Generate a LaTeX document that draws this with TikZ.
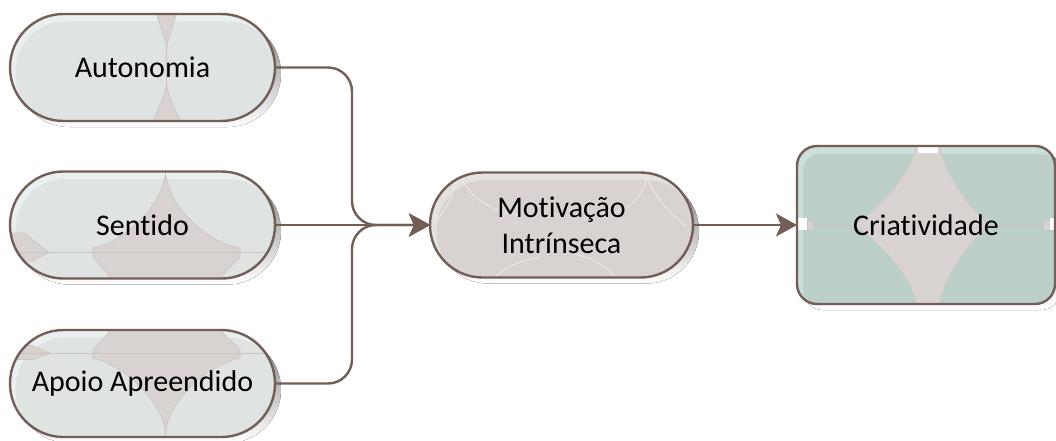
\documentclass[tikz,border=0pt]{standalone}
\usepackage{fontspec}
\setmainfont{Carlito}[Ligatures=NoCommon]
\usetikzlibrary{shapes.misc,arrows.meta,backgrounds}

\definecolor{edge}{HTML}{735E57}
\definecolor{shade}{HTML}{D5CECB}
\definecolor{leftmain}{HTML}{DFE3E1}
\definecolor{leftrim}{HTML}{EAF0EF}
\definecolor{motmain}{HTML}{D8D3D0}
\definecolor{motrim}{HTML}{E4E2E0}
\definecolor{crimain}{HTML}{BCD0C9}
\definecolor{cririm}{HTML}{CCDFDA}
\definecolor{glitchfill}{HTML}{D8D3D0}
\definecolor{glitchline}{HTML}{C9C4C1}
\definecolor{arcline}{HTML}{ECEBEA}

\tikzset{
  base/.style={draw=edge, line width=2.4pt, inner sep=0pt, outer sep=0pt,
    font=\fontsize{30}{36}\selectfont, text=black, align=center},
  pill/.style={base, rounded rectangle, minimum width=265pt, minimum height=107pt},
  boxnode/.style={base, rectangle, rounded corners=20pt, minimum width=258pt, minimum height=158pt},
  glitch/.style={fill=glitchfill, draw=glitchline, line width=0.6pt},
  thinline/.style={draw=glitchline, line width=0.6pt},
  arc/.style={draw=arcline, line width=0.8pt},
  conn/.style={draw=edge, line width=2.4pt, rounded corners=24pt,
    -{Stealth[length=21pt,width=23pt,inset=5pt]}},
}

\begin{document}
\begin{tikzpicture}[x=1pt,y=-1pt]
\useasboundingbox (0,0) rectangle (1056,441);

% nodes (outline and text)
\node[pill] (aut) at (142.5,67.5) {Autonomia};
\node[pill] (sen) at (142.5,225) {Sentido};
\node[pill] (apo) at (142.5,383.5) {Apoio Apreendido};
\node[pill, minimum width=263pt, minimum height=105pt, text depth=0pt] (mot) at (561.5,225) {Motivação\\Intrínseca};
\node[boxnode] (cri) at (926,225) {Criatividade};

% shaded fills behind the outlines
\begin{scope}[on background layer]
  % Autonomia
  \begin{scope}[shift={(aut.center)}]
    \fill[shade, rounded corners=53.4pt] (-126.5,-47.5) rectangle (138.5,59.5);
    \begin{scope}
      \clip[rounded corners=53.4pt] (-132.5,-53.5) rectangle (132.5,53.5);
      \fill[leftrim] (-140,-60) rectangle (140,60);
      \fill[leftmain, rounded corners=50pt] (-127,-46) rectangle (136,57);
      \filldraw[glitch] (12.5,-58) -- (35.5,-58) .. controls (28,-35) and (24,-25) .. (24,-16)
        .. controls (24,-25) and (20,-35) .. (12.5,-58) -- cycle;
      \filldraw[glitch] (9.5,58) -- (39.5,58) .. controls (30,35) and (24,25) .. (24,14)
        .. controls (24,25) and (18,35) .. (9.5,58) -- cycle;
      \draw[thinline] (24,-16) -- (24,14);
    \end{scope}
  \end{scope}
  % Sentido
  \begin{scope}[shift={(sen.center)}]
    \fill[shade, rounded corners=53.4pt] (-126.5,-47.5) rectangle (138.5,59.5);
    \begin{scope}
      \clip[rounded corners=53.4pt] (-132.5,-53.5) rectangle (132.5,53.5);
      \fill[leftrim] (-140,-60) rectangle (140,60);
      \fill[leftmain, rounded corners=50pt] (-127,-46) rectangle (136,57);
      \filldraw[glitch] (23,-56) .. controls (23,-20) and (65,18) .. (97.5,23) -- (97.5,32)
        -- (72.5,58) -- (-27.5,58) -- (-49.5,32) -- (-49.5,23)
        .. controls (-20,18) and (23,-20) .. (23,-56) -- cycle;
      \filldraw[glitch] (-135,8) -- (-118,8) -- (-94,27.5) -- (-110,36) -- (-135,36) -- cycle;
      \draw[thinline] (-140,27.5) -- (140,27.5);
    \end{scope}
  \end{scope}
  % Apoio Apreendido
  \begin{scope}[shift={(apo.center)}]
    \fill[shade, rounded corners=53.4pt] (-126.5,-47.5) rectangle (138.5,59.5);
    \begin{scope}
      \clip[rounded corners=53.4pt] (-132.5,-53.5) rectangle (132.5,53.5);
      \fill[leftrim] (-140,-60) rectangle (140,60);
      \fill[leftmain, rounded corners=50pt] (-127,-46) rectangle (136,57);
      \filldraw[glitch] (23,52) .. controls (23,20) and (65,-20) .. (97.5,-25) -- (97.5,-34)
        -- (72.5,-58) -- (-27.5,-58) -- (-49.5,-34) -- (-49.5,-25)
        .. controls (-20,-20) and (23,20) .. (23,52) -- cycle;
      \filldraw[glitch] (-135,-38) -- (-110,-38) -- (-92,-30) -- (-110,-24) -- (-135,-24) -- cycle;
      \draw[thinline] (-140,-30) -- (140,-30);
    \end{scope}
  \end{scope}
  % Motivação Intrínseca
  \begin{scope}[shift={(mot.center)}]
    \fill[shade, rounded corners=52.4pt] (-125.5,-46.5) rectangle (137.5,58.5);
    \begin{scope}
      \clip[rounded corners=52.4pt] (-131.5,-52.5) rectangle (131.5,52.5);
      \fill[motrim] (-140,-60) rectangle (140,60);
      \fill[motmain, rounded corners=49pt] (-125,-45) rectangle (134,56);
      \draw[arc] (-104.8,-46) .. controls (-110,-25) and (-120,-8) .. (-128.5,-1.5);
      \draw[arc] (-99.8,-46) .. controls (-90,-25) and (-65,-12) .. (-41.5,-9.5);
      \draw[arc] (85.2,-48) .. controls (95,-25) and (112,-8) .. (125.2,2.2);
      \draw[arc] (85.2,-48) .. controls (80,-25) and (65,-15) .. (53.5,-12.5);
      \draw[arc] (-68.5,54) .. controls (-55,40) and (-35,34) .. (-21.5,32.5);
      \draw[arc] (13.5,29.5) .. controls (30,33) and (45,40) .. (55.2,54);
    \end{scope}
  \end{scope}
  % Criatividade
  \begin{scope}[shift={(cri.center)}]
    \fill[shade, rounded corners=20pt] (-123,-73) rectangle (135,85);
    \begin{scope}
      \clip[rounded corners=20pt] (-129,-79) rectangle (129,79);
      \fill[cririm] (-135,-85) rectangle (135,85);
      \fill[crimain, rounded corners=17pt] (-123,-71) rectangle (133,84);
      \filldraw[glitch] (-8,-84) -- (12,-84) .. controls (20,-45) and (50,-10) .. (64,0)
        .. controls (50,10) and (20,45) .. (12,84) -- (-8,84)
        .. controls (-16,45) and (-56,10) .. (-73,0)
        .. controls (-56,-10) and (-16,-45) .. (-8,-84) -- cycle;
      \fill[white] (-8,-84) rectangle (12,-72);
      \draw[thinline] (-113,0) -- (-73,0);
      \draw[thinline] (64,0) -- (117,0);
      \filldraw[glitch] (-119,-5) rectangle (-113,5);
      \filldraw[glitch] (117,-5) rectangle (124,5);
      \fill[white] (-130,-7) rectangle (-119,5);
      \fill[white] (124,-7) rectangle (135,5);
    \end{scope}
  \end{scope}
\end{scope}

% connectors
\coordinate (ja) at (352,67.5);
\coordinate (jc) at (352,383.5);
\draw[conn] (aut.east) -- (ja) |- (mot.west);
\draw[conn] (apo.east) -- (jc) |- (mot.west);
\draw[conn] (sen.east) -- (mot.west);
\draw[conn] (mot.east) -- (cri.west);
\end{tikzpicture}
\end{document}
